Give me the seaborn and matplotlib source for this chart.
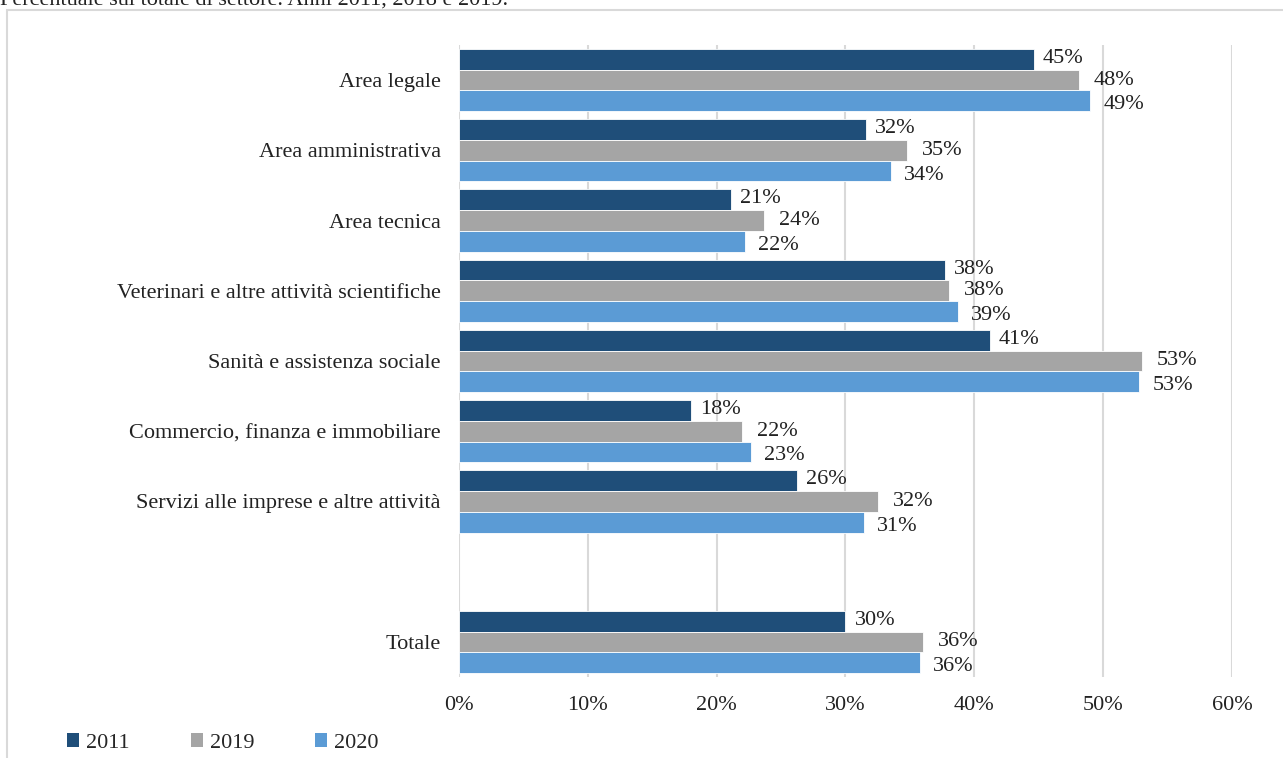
import matplotlib
matplotlib.use("Agg")
import matplotlib.pyplot as plt
import seaborn as sns
import pandas as pd
import numpy as np
from matplotlib.patches import Rectangle, Patch

categories = ["Area legale", "Area amministrativa", "Area tecnica",
              "Veterinari e altre attività scientifiche", "Sanità e assistenza sociale",
              "Commercio, finanza e immobiliare", "Servizi alle imprese e altre attività",
              " ", "Totale"]
years = ["2011", "2019", "2020"]
v2011 = [0.446, 0.316, 0.211, 0.377, 0.412, 0.180, 0.262, np.nan, 0.300]
v2019 = [0.481, 0.348, 0.237, 0.380, 0.530, 0.220, 0.325, np.nan, 0.360]
v2020 = [0.490, 0.335, 0.222, 0.387, 0.528, 0.227, 0.314, np.nan, 0.358]
colors = ["#1F4E79", "#A5A5A5", "#5B9BD5"]
xticks = [0, 0.1, 0.2, 0.3, 0.4, 0.5, 0.6]
title_text = "Percentuale sul totale di settore. Anni 2011, 2018 e 2019."

rows = []
for yr, vals in zip(years, [v2011, v2019, v2020]):
    for c, v in zip(categories, vals):
        rows.append({"Settore": c, "Anno": yr, "Valore": v})
df = pd.DataFrame(rows)

sns.set_style("white")
plt.rcParams["font.family"] = ["Liberation Serif", "DejaVu Serif"]
FS = 16

fig = plt.figure(figsize=(12.83, 7.58), dpi=100)
ax = fig.add_axes([459/1283, 1-677/758, (1232-459)/1283, (677-45)/758])

sns.barplot(data=df, y="Settore", x="Valore", hue="Anno", order=categories,
            hue_order=years, palette=colors, orient="h", width=0.885,
            edgecolor="white", linewidth=0.6, ax=ax, legend=False, saturation=1)

ax.set_xlim(0, 0.6)
ax.set_ylim(len(categories) - 0.5, -0.5)
ax.set_xticks(xticks)
ax.set_xticklabels([f"{int(round(t*100))}%" for t in xticks], fontsize=FS, color="#222222")
ax.tick_params(axis="x", length=0, pad=14)
ax.tick_params(axis="y", length=0, pad=13, labelsize=FS, labelcolor="#222222")
ax.set_xlabel("")
ax.set_ylabel("")
for s in ax.spines.values():
    s.set_visible(False)
ax.grid(axis="x", color="#D9D9D9", linewidth=1.5)
ax.grid(axis="y", visible=False)
ax.set_axisbelow(True)

# data labels
offsets = {"2011": (9, 1), "2019": (15, 0), "2020": (13, -4)}
n = len(years)
w = 0.885 / n
for i, (yr, vals) in enumerate(zip(years, [v2011, v2019, v2020])):
    for j, v in enumerate(vals):
        if np.isnan(v):
            continue
        yc = j - 0.885/2 + w*(i+0.5)
        dx, dy = offsets[yr]
        ax.annotate(f"{int(round(v*100))}%", xy=(v, yc), xytext=(dx*0.72, dy*0.72),
                    textcoords="offset points", ha="left", va="center",
                    fontsize=FS, color="#222222")

# outer frame
fig.patches.append(Rectangle((7/1283, -0.5), 1.5, 1.5 - 10/758, transform=fig.transFigure,
                             fill=False, edgecolor="#D9D9D9", linewidth=1.5))

# cut-off title (cropped in the reference as well)
fig.text(0.0, 1 - 5/758, title_text, ha="left", va="baseline", fontsize=FS, color="#222222")

# legend
handles = [Patch(facecolor=c, edgecolor="none", label=y) for c, y in zip(colors, years)]
fig.legend(handles=handles, loc="center left", bbox_to_anchor=(67/1283, 1 - 743/758),
           ncol=3, frameon=False, fontsize=FS, handlelength=0.55, handleheight=0.55,
           handletextpad=0.3, columnspacing=2.75, borderaxespad=0, borderpad=0)

fig.savefig("out.png", dpi=100)
